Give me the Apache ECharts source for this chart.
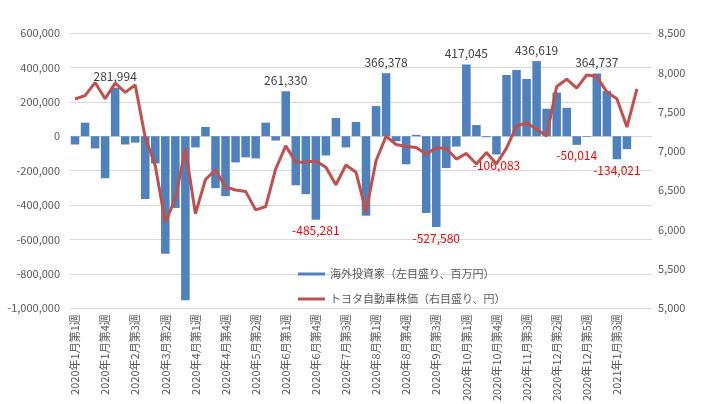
<!DOCTYPE html>
<html>
<head>
<meta charset="utf-8">
<script src="https://cdn.jsdelivr.net/npm/echarts@6/dist/echarts.min.js"></script>
<style>
  html, body { margin: 0; padding: 0; background: #fff; }
  #chart { width: 715px; height: 404px; }
</style>
</head>
<body>
<div id="chart"></div>
<script>
// 週次カテゴリ（最後の1本はラベルなし）
const weeks = [
  '2020年1月第1週', '2020年1月第2週', '2020年1月第3週', '2020年1月第4週',
  '2020年2月第1週', '2020年2月第2週', '2020年2月第3週', '2020年2月第4週',
  '2020年3月第1週', '2020年3月第2週', '2020年3月第3週', '2020年3月第4週',
  '2020年4月第1週', '2020年4月第2週', '2020年4月第3週', '2020年4月第4週', '2020年4月第5週',
  '2020年5月第1週', '2020年5月第2週', '2020年5月第3週', '2020年5月第4週',
  '2020年6月第1週', '2020年6月第2週', '2020年6月第3週', '2020年6月第4週',
  '2020年7月第1週', '2020年7月第2週', '2020年7月第3週', '2020年7月第4週', '2020年7月第5週',
  '2020年8月第1週', '2020年8月第2週', '2020年8月第3週', '2020年8月第4週',
  '2020年9月第1週', '2020年9月第2週', '2020年9月第3週', '2020年9月第4週', '2020年9月第5週',
  '2020年10月第1週', '2020年10月第2週', '2020年10月第3週', '2020年10月第4週',
  '2020年11月第1週', '2020年11月第2週', '2020年11月第3週', '2020年11月第4週',
  '2020年12月第1週', '2020年12月第2週', '2020年12月第3週', '2020年12月第4週', '2020年12月第5週',
  '2021年1月第1週', '2021年1月第2週', '2021年1月第3週', '2021年1月第4週', '2021年1月第5週',
  ''
];

// 海外投資家 売買差額（百万円）
const foreignNet = [
  -48000, 79000, -71000, -244000, 281994, -48000, -37000, -365000, -158000, -683000,
  -417000, -954000, -65000, 54000, -302000, -348000, -152000, -123000, -129000, 79000,
  -25000, 261330, -285000, -337000, -485281, -112000, 106000, -65000, 83000, -462000,
  175000, 366378, -29000, -163000, 8000, -446000, -527580, -185000, -60000, 417045,
  65000, -6000, -106083, 356000, 385000, 333000, 436619, 160000, 254000, 165000,
  -50014, -4000, 364737, 263000, -134021, -75000
];

// トヨタ自動車株価（円）
const toyotaPrice = [
  7661, 7703, 7870, 7665, 7863, 7745, 7838, 7170, 6813, 6091,
  6394, 7032, 6201, 6637, 6759, 6541, 6503, 6486, 6251, 6293,
  6771, 7065, 6856, 6860, 6872, 6793, 6570, 6822, 6730, 6226,
  6876, 7187, 7082, 7057, 7044, 6960, 7040, 7032, 6897, 6969,
  6834, 6981, 6834, 7036, 7317, 7359, 7275, 7191, 7820, 7913,
  7800, 7967, 7946, 7749, 7665, 7304, 7791
];

// 値ラベルを付ける週
const labeledWeeks = [4, 21, 24, 31, 36, 39, 42, 46, 50, 52, 54];

const fmt = v => Number(v).toLocaleString('en-US');
const FONT = '"Noto Sans CJK JP", "Liberation Sans", sans-serif';

const barData = foreignNet.map((v, i) => {
  if (labeledWeeks.indexOf(i) < 0) return v;
  return {
    value: v,
    label: {
      show: true,
      position: v >= 0 ? 'top' : 'bottom',
      distance: 5,
      color: v >= 0 ? '#404040' : '#ff0000',
      fontSize: 12,
      fontFamily: FONT,
      formatter: p => fmt(p.value)
    }
  };
});

const chart = echarts.init(document.getElementById('chart'));
chart.setOption({
  animation: false,
  backgroundColor: '#fff',
  grid: { left: 70, right: 63, top: 33, bottom: 93 },
  legend: {
    orient: 'vertical',
    left: 293,
    top: 262,
    icon: 'rect',
    itemWidth: 27,
    itemHeight: 3,
    itemGap: 11,
    textStyle: { color: '#595959', fontSize: 11, fontFamily: FONT, lineHeight: 14 },
    data: ['海外投資家（左目盛り、百万円）', 'トヨタ自動車株価（右目盛り、円）']
  },
  xAxis: {
    type: 'category',
    data: weeks,
    axisLine: { show: false, onZero: false },
    axisTick: { show: false },
    axisLabel: {
      interval: 2,
      rotate: 90,
      margin: 6,
      color: '#595959',
      fontSize: 11,
      fontFamily: FONT
    }
  },
  yAxis: [
    {
      type: 'value',
      min: -1000000,
      max: 600000,
      interval: 200000,
      axisLine: { show: false },
      axisTick: { show: false },
      splitLine: { lineStyle: { color: '#d9d9d9', width: 1 } },
      axisLabel: { color: '#595959', fontSize: 11, fontFamily: FONT, margin: 10, formatter: fmt }
    },
    {
      type: 'value',
      min: 5000,
      max: 8500,
      interval: 500,
      axisLine: { show: false },
      axisTick: { show: false },
      splitLine: { show: false },
      axisLabel: { color: '#595959', fontSize: 11, fontFamily: FONT, margin: 6, formatter: fmt }
    }
  ],
  series: [
    {
      name: '海外投資家（左目盛り、百万円）',
      type: 'bar',
      yAxisIndex: 0,
      data: barData,
      barCategoryGap: '15%',
      itemStyle: { color: '#4f81bd' }
    },
    {
      name: 'トヨタ自動車株価（右目盛り、円）',
      type: 'line',
      yAxisIndex: 1,
      data: toyotaPrice,
      symbol: 'none',
      itemStyle: { color: '#c0504d' },
      lineStyle: { color: '#c0504d', width: 3 }
    }
  ]
});
</script>
</body>
</html>
